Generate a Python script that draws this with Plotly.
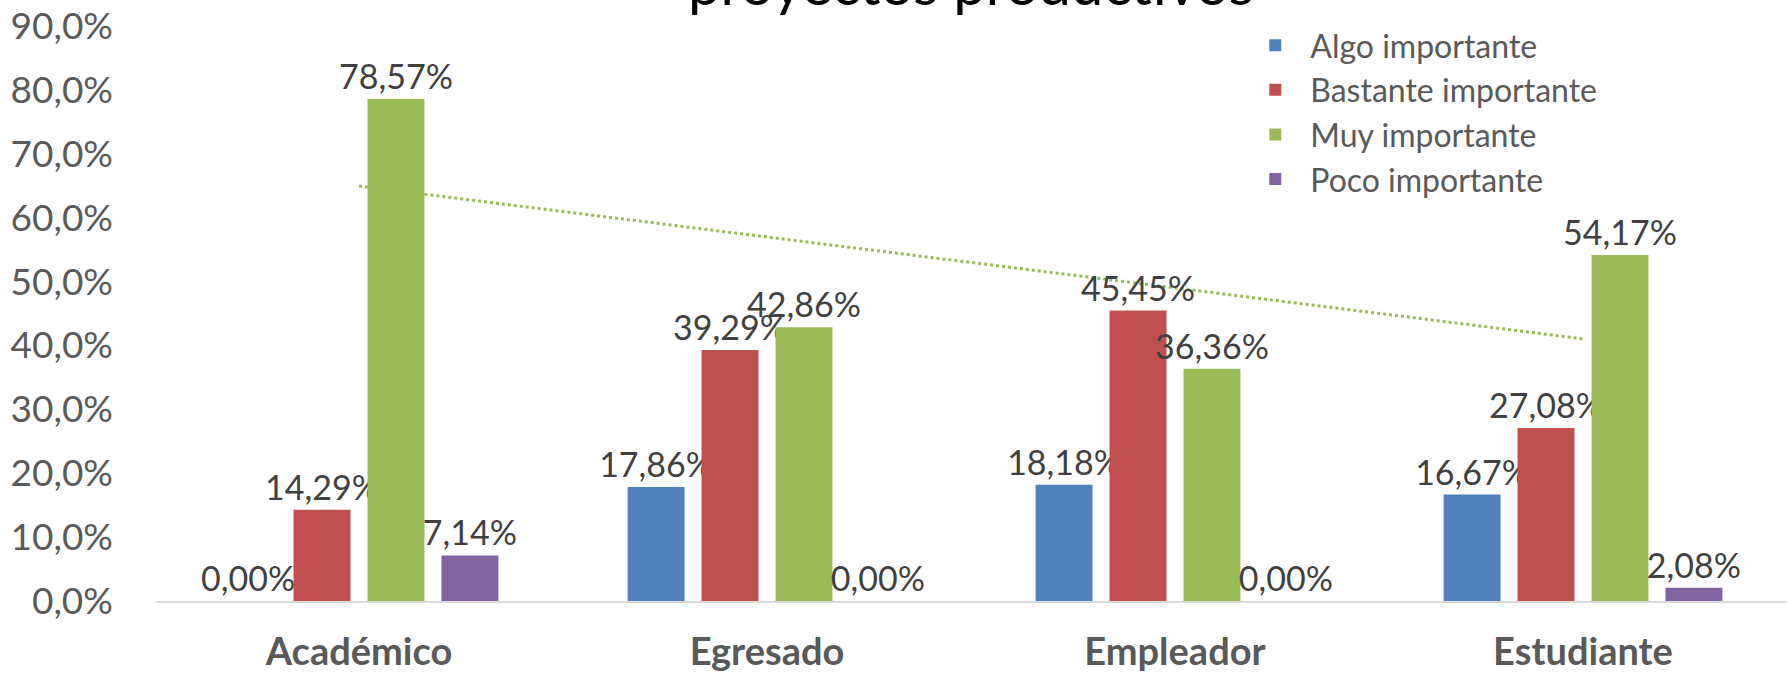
import numpy as np
import plotly.graph_objects as go

categories = ["Académico", "Egresado", "Empleador", "Estudiante"]
series_names = ["Algo importante", "Bastante importante", "Muy importante", "Poco importante"]
algo = [0.00, 17.86, 18.18, 16.67]
bastante = [14.29, 39.29, 45.45, 27.08]
muy = [78.57, 42.86, 36.36, 54.17]
poco = [7.14, 0.00, 0.00, 2.08]
colors = ["#4F81BD", "#C0504D", "#9BBB59", "#8064A2"]
y_ticks = [0, 10, 20, 30, 40, 50, 60, 70, 80, 90]

FONT = "Lato, Open Sans, sans-serif"


def pct(v, d):
    return f"{v:.{d}f}".replace(".", ",") + "%"


fig = go.Figure()
for name, vals, col in zip(series_names, [algo, bastante, muy, poco], colors):
    fig.add_trace(go.Bar(
        name=name, x=categories, y=vals, marker=dict(color=col, line=dict(width=0)),
        text=[pct(v, 2) for v in vals],
        textposition="outside", constraintext="none", cliponaxis=False,
        textfont=dict(family=FONT, size=34, color="#404040"),
    ))

# linear trendline for "Muy importante"
xi = np.arange(1, len(categories) + 1)
slope, intercept = np.polyfit(xi, muy, 1)
fig.add_shape(type="line", xref="x", yref="y", layer="below",
              x0=0, x1=len(categories) - 1,
              y0=slope * 1 + intercept, y1=slope * len(categories) + intercept,
              line=dict(color="#9BBB59", width=3, dash="dot"))

fig.add_annotation(text="proyectos productivos", xref="paper", yref="paper",
                   x=0.5, y=1.012, xanchor="center", yanchor="bottom", showarrow=False,
                   font=dict(family=FONT, size=58, color="#000000"))

fig.update_layout(
    width=1788, height=674,
    margin=dict(l=155, r=1, t=26, b=73),
    paper_bgcolor="white", plot_bgcolor="white",
    barmode="group", bargap=0.275, bargroupgap=0.23,
    showlegend=True,
    legend=dict(x=0.665, y=1.014, xanchor="left", yanchor="top",
                font=dict(family=FONT, size=32, color="#595959"),
                bgcolor="rgba(0,0,0,0)", tracegroupgap=0, itemwidth=60),
    font=dict(family=FONT, color="#595959"),
)
fig.update_yaxes(range=[0, 90], tickmode="array", tickvals=y_ticks,
                 ticktext=[pct(v, 1) for v in y_ticks],
                 showgrid=False, zeroline=False, showline=False,
                 ticks="", ticklabelstandoff=41, ticklabeloverflow="allow",
                 tickfont=dict(family=FONT, size=37, color="#595959"))
fig.update_xaxes(showline=True, linecolor="#D9D9D9", linewidth=2, ticks="",
                 tickfont=dict(family=FONT, size=38, color="#595959", weight="bold"),
                 ticklabelstandoff=16)

fig.write_html("out.html", config={"displayModeBar": False},
               post_script="document.body.style.margin='0';document.body.style.overflow='hidden';")
